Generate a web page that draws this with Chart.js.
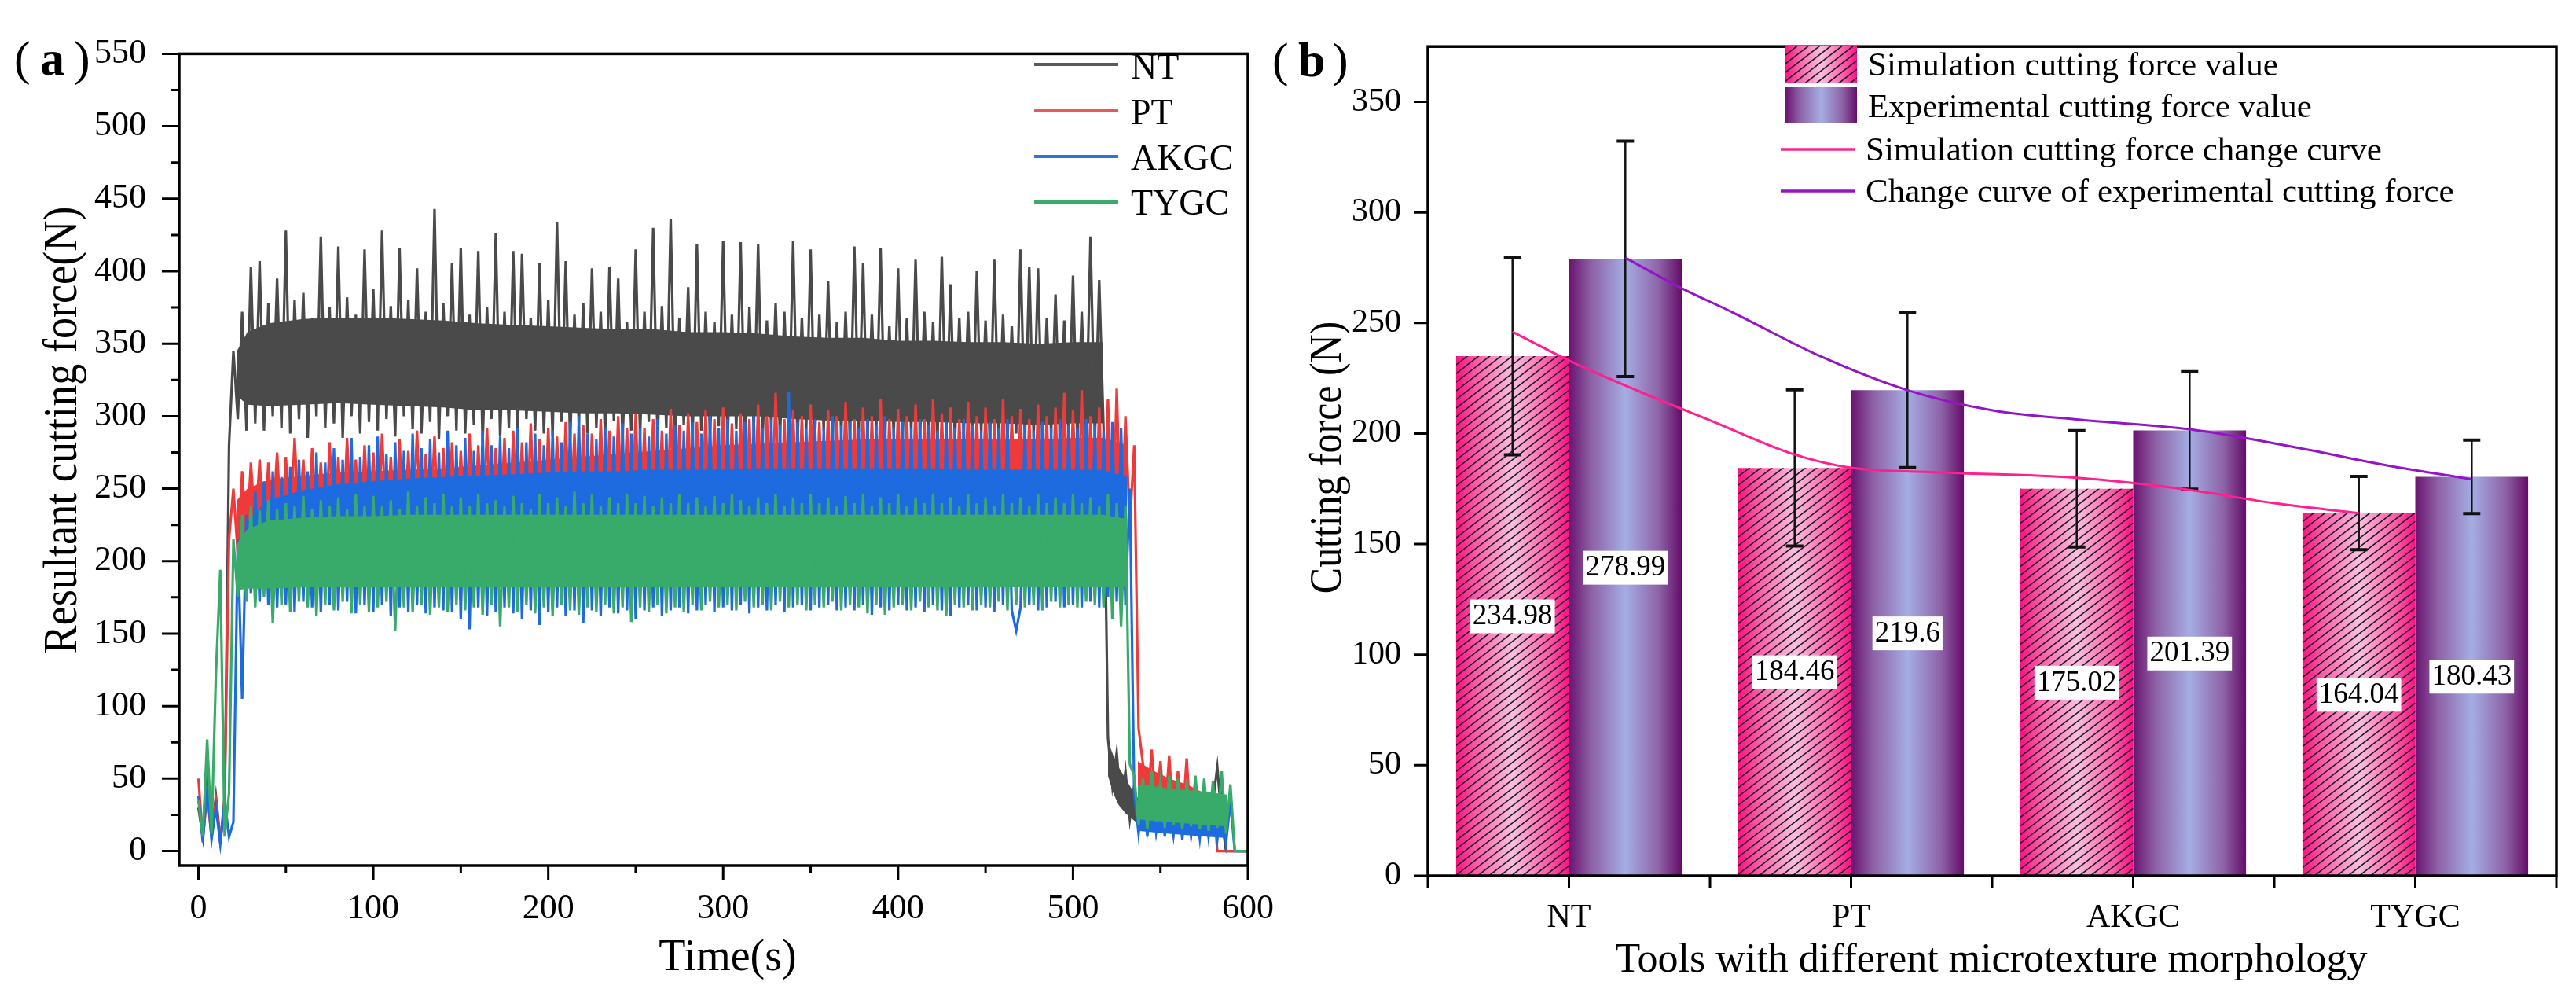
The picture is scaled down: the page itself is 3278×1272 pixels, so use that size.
<!DOCTYPE html>
<html>
<head>
<meta charset="utf-8">
<script src="https://cdn.jsdelivr.net/npm/chart.js@4.4.1/dist/chart.umd.min.js"></script>
<style>
  html, body { margin: 0; padding: 0; background: #fff; }
  #wrap { position: relative; width: 3278px; height: 1272px; overflow: hidden; background: #fff; }
  #forceChart { position: absolute; left: 0; top: 0; width: 1650px; height: 1272px; }
  #compareChart { position: absolute; left: 1600px; top: 0; width: 1678px; height: 1272px; }
</style>
</head>
<body>
<div id="wrap">
  <canvas id="forceChart" width="1650" height="1272"></canvas>
  <canvas id="compareChart" width="1678" height="1272"></canvas>
</div>
<script>
const timeStep = 2.5;
const seriesNames = ['NT', 'PT', 'AKGC', 'TYGC'];

const ntForce = [
  30, 10, 62, 12, 38, 8, 30, 280, 345, 298,
  372, 290, 403, 295, 407, 290, 378, 300, 395, 292,
  428, 288, 380, 298, 385, 285, 368, 300, 424, 292,
  375, 295, 417, 285, 382, 300, 370, 288, 415, 296,
  388, 290, 428, 298, 376, 286, 416, 300, 380, 291,
  402, 288, 372, 296, 443, 284, 378, 300, 406, 290,
  416, 288, 370, 294, 414, 282, 375, 298, 426, 286,
  372, 292, 414, 285, 412, 298, 368, 290, 406, 288,
  380, 286, 434, 296, 407, 283, 370, 295, 378, 288,
  402, 292, 372, 286, 403, 297, 395, 284, 365, 290,
  415, 287, 372, 296, 430, 283, 376, 292, 436, 286,
  368, 294, 389, 282, 419, 290, 372, 287, 365, 293,
  421, 284, 370, 291, 420, 286, 375, 290, 419, 283,
  366, 292, 378, 285, 372, 289, 421, 282, 368, 291,
  415, 285, 370, 290, 393, 283, 365, 288, 372, 282,
  417, 289, 406, 284, 370, 290, 416, 283, 362, 287,
  402, 282, 368, 289, 408, 284, 372, 286, 365, 281,
  410, 288, 391, 283, 368, 287, 372, 282, 400, 288,
  366, 281, 408, 287, 370, 283, 362, 288, 415, 282,
  403, 286, 402, 281, 368, 288, 384, 283, 366, 287,
  397, 282, 372, 288, 424, 284, 394, 290, 78, 45,
  68, 30, 55, 22, 45, 18, 40, 15, 38, 14,
  36, 15, 38, 12, 35, 14, 34, 12, 36, 13,
  35, 12, 34, 58, 22, 0, 0, 0, 0, 0,
  0
];
const ptForce = [
  50, 8, 40, 10, 35, 6, 38, 215, 250, 205,
  262, 212, 268, 222, 270, 215, 268, 225, 275, 220,
  272, 218, 285, 225, 270, 212, 278, 222, 268, 215,
  282, 220, 272, 214, 285, 222, 270, 210, 280, 218,
  275, 212, 288, 220, 272, 215, 284, 208, 276, 218,
  290, 212, 274, 220, 286, 210, 278, 216, 282, 212,
  276, 218, 288, 210, 280, 215, 292, 212, 278, 218,
  285, 210, 290, 216, 282, 212, 295, 218, 284, 210,
  292, 215, 286, 210, 296, 218, 288, 212, 294, 216,
  288, 210, 298, 215, 290, 212, 300, 218, 292, 210,
  302, 214, 292, 210, 298, 216, 290, 212, 305, 215,
  294, 210, 302, 216, 296, 212, 304, 210, 298, 215,
  306, 212, 295, 216, 302, 210, 298, 214, 308, 212,
  300, 215, 316, 210, 298, 214, 304, 212, 300, 216,
  308, 210, 296, 214, 304, 212, 300, 216, 310, 210,
  298, 214, 306, 210, 300, 216, 312, 212, 298, 214,
  305, 210, 300, 215, 308, 212, 298, 210, 312, 214,
  302, 210, 306, 215, 298, 212, 310, 210, 300, 214,
  306, 212, 298, 210, 312, 215, 300, 210, 305, 212,
  298, 214, 308, 210, 300, 212, 306, 210, 316, 214,
  304, 212, 318, 215, 300, 210, 306, 214, 312, 210,
  319, 215, 300, 225, 280, 85, 60, 30, 70, 28,
  62, 22, 66, 18, 55, 20, 64, 15, 48, 14,
  45, 12, 40, 0, 0, 0, 0, 0, 0, 0,
  0
];
const akgcForce = [
  38, 6, 45, 8, 30, 5, 35, 10, 20, 215,
  105, 232, 178, 248, 172, 255, 170, 262, 168, 258,
  170, 265, 165, 270, 172, 262, 168, 275, 165, 268,
  170, 278, 166, 270, 172, 285, 164, 272, 170, 280,
  165, 286, 170, 274, 162, 282, 168, 276, 165, 288,
  170, 278, 164, 284, 168, 275, 166, 290, 165, 280,
  160, 285, 153, 276, 168, 290, 162, 280, 165, 286,
  168, 278, 164, 292, 160, 282, 166, 288, 156, 280,
  165, 290, 168, 282, 162, 296, 166, 300, 157, 288,
  166, 284, 162, 292, 168, 286, 164, 295, 166, 288,
  160, 292, 166, 286, 168, 298, 162, 288, 166, 294,
  168, 290, 164, 296, 166, 288, 170, 300, 165, 292,
  168, 298, 166, 290, 170, 296, 164, 300, 168, 292,
  166, 298, 170, 294, 165, 317, 168, 296, 170, 292,
  166, 298, 168, 292, 170, 300, 166, 294, 168, 296,
  166, 292, 170, 298, 163, 294, 168, 300, 166, 292,
  170, 296, 166, 292, 168, 298, 165, 294, 170, 290,
  166, 296, 162, 292, 168, 298, 170, 294, 166, 290,
  168, 296, 165, 292, 170, 298, 166, 152, 168, 294,
  170, 290, 166, 296, 168, 292, 172, 298, 168, 294,
  170, 292, 168, 298, 172, 294, 168, 290, 175, 296,
  172, 292, 170, 250, 40, 12, 42, 10, 45, 14,
  40, 10, 42, 12, 38, 8, 40, 11, 36, 9,
  38, 10, 35, 8, 36, 6, 34, 0, 0, 0,
  0
];
const tygcForce = [
  35, 10, 77, 12, 122, 194, 10, 40, 215, 175,
  232, 172, 238, 168, 235, 175, 242, 157, 236, 170,
  240, 165, 238, 172, 245, 168, 236, 162, 242, 170,
  238, 166, 244, 172, 236, 164, 246, 170, 238, 165,
  245, 168, 238, 172, 242, 152, 236, 168, 248, 165,
  238, 170, 244, 163, 240, 168, 246, 165, 238, 170,
  244, 166, 238, 168, 246, 163, 240, 170, 242, 155,
  238, 168, 245, 165, 240, 170, 236, 164, 246, 168,
  240, 162, 244, 170, 238, 166, 248, 163, 240, 168,
  246, 165, 238, 170, 244, 164, 240, 168, 246, 158,
  240, 168, 245, 165, 238, 170, 244, 164, 240, 168,
  246, 165, 240, 170, 244, 166, 238, 172, 245, 168,
  240, 170, 246, 166, 242, 172, 238, 168, 244, 170,
  240, 166, 246, 172, 238, 168, 244, 170, 240, 166,
  246, 170, 240, 168, 244, 172, 238, 166, 245, 170,
  240, 168, 246, 164, 238, 170, 244, 163, 240, 168,
  246, 170, 238, 166, 244, 172, 240, 168, 246, 166,
  240, 162, 244, 170, 238, 168, 246, 166, 240, 170,
  244, 168, 238, 172, 246, 166, 240, 170, 244, 168,
  238, 170, 246, 166, 240, 172, 244, 168, 240, 170,
  246, 168, 240, 172, 244, 170, 238, 168, 246, 160,
  240, 155, 238, 60, 52, 18, 50, 15, 55, 20,
  48, 16, 52, 18, 50, 15, 48, 17, 52, 15,
  50, 14, 48, 16, 55, 12, 46, 0, 0, 0,
  0
];

// dense core of each trace during cutting (where the signal is nearly solid)
const coreTime = [22, 28, 40, 60, 80, 100, 120, 140, 160, 180, 200, 220, 240, 260, 280, 300, 320, 340, 360, 380, 400, 420, 440, 460, 480, 500, 517, 531];
const ntCoreHigh = [345, 358, 364, 367, 368, 368, 367, 366, 364, 363, 362, 361, 360, 360, 358, 358, 357, 355, 354, 354, 352, 352, 351, 351, 350, 351, 351, null];
const ntCoreLow = [314, 308, 307, 308, 309, 308, 307, 306, 304, 304, 303, 302, 302, 301, 300, 300, 300, 298, 297, 297, 296, 296, 295, 295, 294, 295, 295, null];
const ptCoreHigh = [242, 250, 256, 259, 261, 262, 263, 264, 266, 268, 270, 272, 274, 276, 278, 280, 281, 282, 283, 284, 284, 284, 284, 284, 284, 285, 285, 280];
const ptCoreLow = [214, 220, 224, 226, 227, 227, 227, 228, 228, 228, 228, 229, 229, 229, 229, 229, 229, 229, 229, 229, 229, 229, 229, 229, 229, 229, 229, 227];
const akgcCoreHigh = [null, 228, 242, 249, 253, 255, 257, 258, 259, 260, 261, 262, 262, 263, 263, 263, 264, 264, 264, 264, 264, 264, 263, 263, 263, 263, 263, 258];
const akgcCoreLow = [null, 197, 200, 202, 204, 205, 205, 206, 206, 206, 207, 207, 208, 208, 208, 208, 208, 208, 208, 208, 208, 208, 208, 208, 208, 208, 208, 206];
const tygcCoreHigh = [212, 222, 228, 230, 231, 231, 232, 232, 232, 232, 232, 232, 232, 232, 232, 232, 232, 232, 232, 232, 232, 232, 232, 232, 232, 232, 232, 229];
const tygcCoreLow = [180, 181, 181, 182, 182, 182, 182, 182, 182, 182, 182, 182, 182, 182, 182, 182, 182, 182, 182, 182, 182, 182, 182, 182, 182, 182, 182, 182];

// dense core after the tool leaves the work piece
const ntTailTime = [520, 523, 526, 530, 534, 538];
const ntTailHigh = [76, 66, 58, 50, 42, 35];
const ntTailLow = [52, 40, 32, 26, 22, 18];
const tailTime = [537, 545, 555, 565, 575, 588];
const ptTailHigh = [62, 56, 50, 46, 40, null];
const ptTailLow = [34, 30, 26, 22, 18, null];
const akgcTailHigh = [36, 35, 34, 33, 31, 29];
const akgcTailLow = [14, 13, 12, 11, 10, 9];
const tygcTailHigh = [46, 45, 43, 42, 41, 39];
const tygcTailLow = [22, 21, 20, 19, 18, 17];

const timeTicks = [0, 100, 200, 300, 400, 500, 600];
const timeMinorTicks = [50, 150, 250, 350, 450, 550];
const forceTicks = [0, 50, 100, 150, 200, 250, 300, 350, 400, 450, 500, 550];
const forceMinorTicks = [25, 75, 125, 175, 225, 275, 325, 375, 425, 475, 525];

// ---- (b) simulated vs experimental cutting force ----
const tools = ['NT', 'PT', 'AKGC', 'TYGC'];
const simForce = [234.98, 184.46, 175.02, 164.04];
const expForce = [278.99, 219.6, 201.39, 180.43];
const simError = [44.6, 35.3, 26.3, 16.6];
const expError = [53.2, 35.0, 26.6, 16.6];
const simCurveX = [-0.2, 0, 0.25, 0.5, 0.8, 1.0, 1.3, 1.8, 2.2, 2.5, 2.8];
const simCurveY = [246, 233, 219, 206, 190.5, 184.5, 182.5, 180, 174.5, 168.5, 164];
const expCurveX = [0.2, 0.395, 0.58, 0.89, 1.2, 1.506, 1.815, 2.2, 2.587, 2.896, 3.2];
const expCurveY = [279.5, 266, 254.8, 235, 219.6, 210.4, 206.2, 201.9, 193.5, 185.7, 179.3];
const cuttingTicks = [0, 50, 100, 150, 200, 250, 300, 350];
const toolTicks = [0, 1, 2, 3];
const toolTickPos = [-0.5, 0, 0.5, 1, 1.5, 2, 2.5, 3, 3.5];

// ---- styles ----
const SERIF = "'Liberation Serif', 'Times New Roman', serif";
const seriesColors = ['#4a4a4a', '#ee3a3a', '#1e6be0', '#38aa6a'];
const legendColors = ['#5a5a5a', '#e85a5a', '#2f72da', '#3daa6c'];
const simStops = [[0, '#ff0f84'], [0.18, '#ff5aa9'], [0.5, '#f8bfdf'], [0.82, '#ff5aa9'], [1, '#ff1088']];
const expStops = [[0, '#6a1370'], [0.2, '#8d62a6'], [0.5, '#a5ade4'], [0.8, '#8d62a6'], [1, '#640c68']];
const pinkCurve = '#ff1f8e';
const purpleCurve = '#9614c8';

Chart.defaults.font.family = SERIF;
Chart.defaults.color = '#000';

function toPoints(values) {
  return values.map((v, i) => ({ x: i * timeStep, y: v }));
}
function bandPoints(times, values) {
  return times.map((t, i) => ({ x: t, y: values[i] }));
}
function fixedTicks(values) {
  return axis => { axis.ticks = values.map(v => ({ value: v })); };
}
function makeGradient(ctx, x0, x1, stops) {
  const g = ctx.createLinearGradient(x0, 0, x1, 0);
  stops.forEach(s => g.addColorStop(s[0], s[1]));
  return g;
}
function hatch(ctx, left, top, w, h) {
  ctx.save();
  ctx.beginPath();
  ctx.rect(left, top, w, h);
  ctx.clip();
  ctx.strokeStyle = '#1b1b1b';
  ctx.lineWidth = 1.6;
  const slope = 0.77, gap = 11;
  ctx.beginPath();
  for (let yy = top; yy <= top + h + w * slope + gap; yy += gap) {
    ctx.moveTo(left, yy);
    ctx.lineTo(left + w, yy - w * slope);
  }
  ctx.stroke();
  ctx.restore();
}
function panelLabel(ctx, letter, x, base) {
  ctx.save();
  ctx.fillStyle = '#000';
  ctx.textBaseline = 'alphabetic';
  ctx.font = '62px ' + SERIF;
  ctx.fillText('(', x, base);
  ctx.font = 'bold 62px ' + SERIF;
  ctx.fillText(letter, x + 33, base);
  ctx.font = '62px ' + SERIF;
  ctx.fillText(')', x + 76, base);
  ctx.restore();
}
function rotatedTitle(ctx, str, x, y, size, squeeze) {
  ctx.save();
  ctx.translate(x, y);
  ctx.rotate(-Math.PI / 2);
  ctx.scale(squeeze, 1);
  ctx.font = size + 'px ' + SERIF;
  ctx.fillStyle = '#000';
  ctx.textAlign = 'center';
  ctx.textBaseline = 'alphabetic';
  ctx.fillText(str, 0, 0);
  ctx.restore();
}
function plainText(ctx, str, x, y, size, align) {
  ctx.save();
  ctx.font = size + 'px ' + SERIF;
  ctx.fillStyle = '#000';
  ctx.textAlign = align || 'left';
  ctx.textBaseline = 'alphabetic';
  ctx.fillText(str, x, y);
  ctx.restore();
}

// ---------------- chart (a) ----------------
const forceSeries = [ntForce, ptForce, akgcForce, tygcForce];
const bands = [
  [[coreTime, ntCoreHigh, ntCoreLow], [ntTailTime, ntTailHigh, ntTailLow]],
  [[coreTime, ptCoreHigh, ptCoreLow], [tailTime, ptTailHigh, ptTailLow]],
  [[coreTime, akgcCoreHigh, akgcCoreLow], [tailTime, akgcTailHigh, akgcTailLow]],
  [[coreTime, tygcCoreHigh, tygcCoreLow], [tailTime, tygcTailHigh, tygcTailLow]]
];
const forceDatasets = [];
seriesNames.forEach((name, k) => {
  const order = (3 - k) * 10;
  bands[k].forEach(([times, high, low]) => {
    forceDatasets.push({
      label: name + ' band low', data: bandPoints(times, low),
      borderColor: 'rgba(0,0,0,0)', borderWidth: 0, pointRadius: 0, fill: false,
      spanGaps: false, order: order + 2
    });
    forceDatasets.push({
      label: name + ' band', data: bandPoints(times, high),
      borderColor: 'rgba(0,0,0,0)', borderWidth: 0, pointRadius: 0,
      backgroundColor: seriesColors[k], fill: '-1', spanGaps: false, order: order + 1
    });
  });
  forceDatasets.push({
    label: name, data: toPoints(forceSeries[k]),
    borderColor: seriesColors[k], borderWidth: 3.2, pointRadius: 0,
    fill: false, tension: 0, order: order, isTrace: true
  });
});

const forceDecor = {
  id: 'forceDecor',
  afterDatasetsDraw(chart) {
    const { ctx, chartArea: a, scales: { x, y } } = chart;
    ctx.save();
    ctx.strokeStyle = '#000';
    ctx.lineWidth = 3.5;
    ctx.strokeRect(a.left, a.top, a.right - a.left, a.bottom - a.top);
    ctx.lineWidth = 3;
    ctx.beginPath();
    timeTicks.forEach(v => { const px = x.getPixelForValue(v); ctx.moveTo(px, a.bottom); ctx.lineTo(px, a.bottom + 18); });
    timeMinorTicks.forEach(v => { const px = x.getPixelForValue(v); ctx.moveTo(px, a.bottom); ctx.lineTo(px, a.bottom + 10); });
    forceTicks.forEach(v => { const py = y.getPixelForValue(v); ctx.moveTo(a.left, py); ctx.lineTo(a.left - 22, py); });
    forceMinorTicks.forEach(v => { const py = y.getPixelForValue(v); ctx.moveTo(a.left, py); ctx.lineTo(a.left - 11, py); });
    ctx.stroke();
    ctx.restore();
  },
  afterDraw(chart) {
    const ctx = chart.ctx;
    const traces = chart.data.datasets.filter(d => d.isTrace);
    const lineY = [82, 141, 199, 257];
    const textY = [100, 158, 216, 273];
    traces.forEach((d, k) => {
      ctx.save();
      ctx.strokeStyle = legendColors[k];
      ctx.lineWidth = 4;
      ctx.beginPath();
      ctx.moveTo(1316, lineY[k]);
      ctx.lineTo(1423, lineY[k]);
      ctx.stroke();
      ctx.restore();
      plainText(ctx, d.label, 1439, textY[k], 46);
    });
    rotatedTitle(ctx, 'Resultant cutting force(N)', 97, 547, 62, 0.874);
    plainText(ctx, 'Time(s)', 926, 1234, 56, 'center');
    panelLabel(ctx, 'a', 18, 95);
  }
};

new Chart(document.getElementById('forceChart'), {
  type: 'line',
  data: { datasets: forceDatasets },
  options: {
    responsive: false,
    devicePixelRatio: 1,
    animation: false,
    events: [],
    layout: { padding: { top: 48, right: 47, left: 0, bottom: 0 } },
    plugins: { legend: { display: false }, tooltip: { enabled: false } },
    scales: {
      x: {
        type: 'linear', min: -11, max: 600,
        grid: { display: false, drawTicks: false },
        border: { display: false },
        ticks: { padding: 29, font: { size: 44 }, color: '#000', autoSkip: false },
        afterBuildTicks: fixedTicks(timeTicks),
        afterFit: s => { s.height = 171; }
      },
      y: {
        type: 'linear', min: -10, max: 550,
        grid: { display: false, drawTicks: false },
        border: { display: false },
        ticks: { padding: 42, font: { size: 44 }, color: '#000', autoSkip: false },
        afterBuildTicks: fixedTicks(forceTicks),
        afterFit: s => { s.width = 228; }
      }
    }
  },
  plugins: [forceDecor]
});

// ---------------- chart (b) ----------------
function barFill(stops, shift) {
  return c => {
    const chart = c.chart;
    const xs = chart.scales && chart.scales.x;
    if (c.type !== 'data' || !chart.chartArea || !xs) return stops[2][1];
    const x0 = xs.getPixelForValue(c.dataIndex + shift - 0.2);
    const x1 = xs.getPixelForValue(c.dataIndex + shift + 0.2);
    return makeGradient(chart.ctx, x0, x1, stops);
  };
}
const errors = [simError, expError];

const barDecor = {
  id: 'barDecor',
  afterDatasetDraw(chart, args) {
    if (args.index > 1) return;
    const ctx = chart.ctx;
    const y = chart.scales.y;
    args.meta.data.forEach((el, i) => {
      const p = el.getProps(['x', 'y', 'base', 'width'], true);
      if (args.index === 0) hatch(ctx, p.x - p.width / 2, p.y, p.width, p.base - p.y);
      const v = chart.data.datasets[args.index].data[i].y;
      const e = errors[args.index][i];
      const top = y.getPixelForValue(v + e), bot = y.getPixelForValue(v - e);
      ctx.save();
      ctx.strokeStyle = '#111';
      ctx.lineWidth = 2.5;
      ctx.beginPath();
      ctx.moveTo(p.x, top); ctx.lineTo(p.x, bot);
      ctx.stroke();
      ctx.lineWidth = 4;
      ctx.beginPath();
      ctx.moveTo(p.x - 11, top); ctx.lineTo(p.x + 11, top);
      ctx.moveTo(p.x - 11, bot); ctx.lineTo(p.x + 11, bot);
      ctx.stroke();
      ctx.restore();
    });
  },
  afterDatasetsDraw(chart) {
    const { ctx, chartArea: a, scales: { x, y } } = chart;
    [0, 1].forEach(di => {
      const meta = chart.getDatasetMeta(di);
      meta.data.forEach((el, i) => {
        const v = chart.data.datasets[di].data[i].y;
        const py = y.getPixelForValue(v / 2);
        const str = String(v);
        ctx.save();
        ctx.font = '37px ' + SERIF;
        const w = ctx.measureText(str).width + 6;
        ctx.fillStyle = '#fff';
        ctx.fillRect(el.x - w / 2, py - 21, w, 43);
        ctx.fillStyle = '#000';
        ctx.textAlign = 'center';
        ctx.textBaseline = 'middle';
        ctx.fillText(str, el.x, py + 1);
        ctx.restore();
      });
    });
    ctx.save();
    ctx.strokeStyle = '#000';
    ctx.lineWidth = 3.5;
    ctx.strokeRect(a.left, a.top, a.right - a.left, a.bottom - a.top);
    ctx.lineWidth = 3;
    ctx.beginPath();
    toolTickPos.forEach(v => { const px = x.getPixelForValue(v); ctx.moveTo(px, a.bottom); ctx.lineTo(px, a.bottom + 16); });
    cuttingTicks.forEach(v => { const py = y.getPixelForValue(v); ctx.moveTo(a.left, py); ctx.lineTo(a.left - 18, py); });
    ctx.stroke();
    ctx.restore();
  },
  afterDraw(chart) {
    const ctx = chart.ctx;
    const ds = chart.data.datasets;
    const bx = 672, bw = 91;
    ctx.save();
    ctx.fillStyle = makeGradient(ctx, bx, bx + bw, simStops);
    ctx.fillRect(bx, 59, bw, 46);
    ctx.restore();
    hatch(ctx, bx, 59, bw, 46);
    ctx.save();
    ctx.fillStyle = makeGradient(ctx, bx, bx + bw, expStops);
    ctx.fillRect(bx, 111, bw, 46);
    ctx.restore();
    plainText(ctx, ds[0].label, 777, 96, 43);
    plainText(ctx, ds[1].label, 777, 149, 43);
    [[2, 190, 204], [3, 243, 257]].forEach(([k, ly, ty]) => {
      ctx.save();
      ctx.strokeStyle = ds[k].borderColor;
      ctx.lineWidth = 3.5;
      ctx.beginPath();
      ctx.moveTo(666, ly); ctx.lineTo(760, ly);
      ctx.stroke();
      ctx.restore();
      plainText(ctx, ds[k].label, 774, ty, 43);
    });
    rotatedTitle(ctx, 'Cutting force (N)', 106, 582, 58, 0.86);
    plainText(ctx, 'Tools with different microtexture morphology', 934, 1236, 52, 'center');
    panelLabel(ctx, 'b', 19, 97);
  }
};

new Chart(document.getElementById('compareChart'), {
  type: 'bar',
  data: {
    datasets: [
      {
        type: 'bar', label: 'Simulation cutting force value',
        data: tools.map((t, i) => ({ x: i, y: simForce[i] })),
        backgroundColor: barFill(simStops, -0.2), borderWidth: 0,
        categoryPercentage: 0.8, barPercentage: 1.0, order: 2
      },
      {
        type: 'bar', label: 'Experimental cutting force value',
        data: tools.map((t, i) => ({ x: i, y: expForce[i] })),
        backgroundColor: barFill(expStops, 0.2), borderWidth: 0,
        categoryPercentage: 0.8, barPercentage: 1.0, order: 2
      },
      {
        type: 'line', label: 'Simulation cutting force change curve',
        data: simCurveX.map((x, i) => ({ x: x, y: simCurveY[i] })),
        borderColor: pinkCurve, borderWidth: 3, pointRadius: 0,
        cubicInterpolationMode: 'monotone', fill: false, order: 1
      },
      {
        type: 'line', label: 'Change curve of experimental cutting force',
        data: expCurveX.map((x, i) => ({ x: x, y: expCurveY[i] })),
        borderColor: purpleCurve, borderWidth: 3, pointRadius: 0,
        cubicInterpolationMode: 'monotone', fill: false, order: 1
      }
    ]
  },
  options: {
    responsive: false,
    devicePixelRatio: 1,
    animation: false,
    events: [],
    layout: { padding: { top: 28, right: 25, left: 0, bottom: 0 } },
    plugins: { legend: { display: false }, tooltip: { enabled: false } },
    scales: {
      x: {
        type: 'linear', min: -0.5, max: 3.5, offset: false,
        grid: { display: false, drawTicks: false },
        border: { display: false },
        ticks: { padding: 29, font: { size: 42 }, color: '#000', autoSkip: false,
                 callback: v => tools[v] },
        afterBuildTicks: fixedTicks(toolTicks),
        afterFit: s => { s.height = 158; }
      },
      y: {
        type: 'linear', min: 0, max: 375,
        grid: { display: false, drawTicks: false },
        border: { display: false },
        ticks: { padding: 34, font: { size: 42 }, color: '#000' },
        afterBuildTicks: fixedTicks(cuttingTicks),
        afterFit: s => { s.width = 217; }
      }
    }
  },
  plugins: [barDecor]
});
</script>
</body>
</html>
